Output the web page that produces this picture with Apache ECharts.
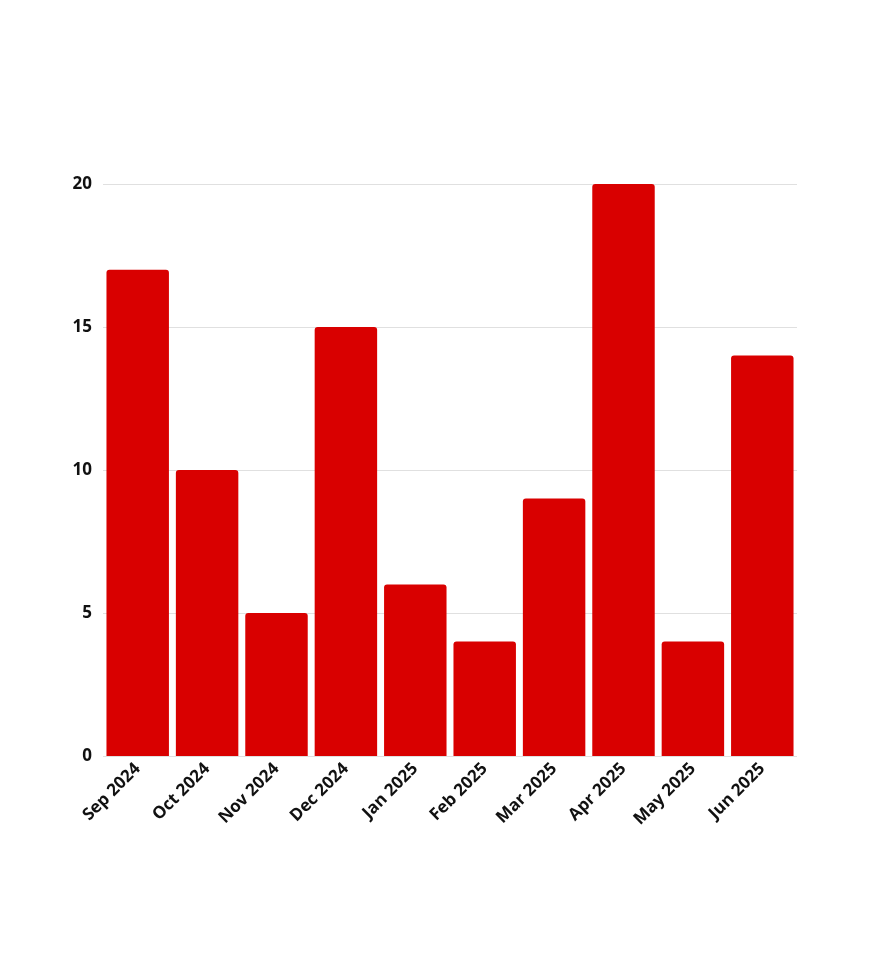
<!DOCTYPE html>
<html>
<head>
<meta charset="utf-8">
<script src="https://cdn.jsdelivr.net/npm/echarts@6/dist/echarts.min.js"></script>
<style>
  html, body { margin: 0; padding: 0; background: #fff; }
  #chart { width: 878px; height: 966px; }
</style>
</head>
<body>
<div id="chart"></div>
<script>
  const months = ['Sep 2024', 'Oct 2024', 'Nov 2024', 'Dec 2024', 'Jan 2025',
    'Feb 2025', 'Mar 2025', 'Apr 2025', 'May 2025', 'Jun 2025'];
  const counts = [17, 10, 5, 15, 6, 4, 9, 20, 4, 14];

  const chart = echarts.init(document.getElementById('chart'));
  chart.setOption({
    animation: false,
    grid: { left: 103, right: 81, top: 184, bottom: 210, containLabel: false },
    xAxis: {
      type: 'category',
      data: months,
      axisLine: { show: false },
      axisTick: { show: false },
      axisLabel: {
        rotate: 45,
        interval: 0,
        margin: 10,
        color: '#111',
        fontFamily: 'Open Sans',
        fontWeight: 'bold',
        fontSize: 17
      }
    },
    yAxis: {
      type: 'value',
      min: 0,
      max: 20,
      interval: 5,
      axisLine: { show: false },
      axisTick: { show: false },
      splitLine: { lineStyle: { color: '#e0e0e0', width: 1 } },
      axisLabel: {
        margin: 11,
        color: '#111',
        fontFamily: 'Open Sans',
        fontWeight: 'bold',
        fontSize: 17
      }
    },
    series: [{
      type: 'bar',
      data: counts,
      barCategoryGap: '10%',
      itemStyle: { color: '#d90000', borderRadius: [3, 3, 0, 0] }
    }]
  });
</script>
</body>
</html>
